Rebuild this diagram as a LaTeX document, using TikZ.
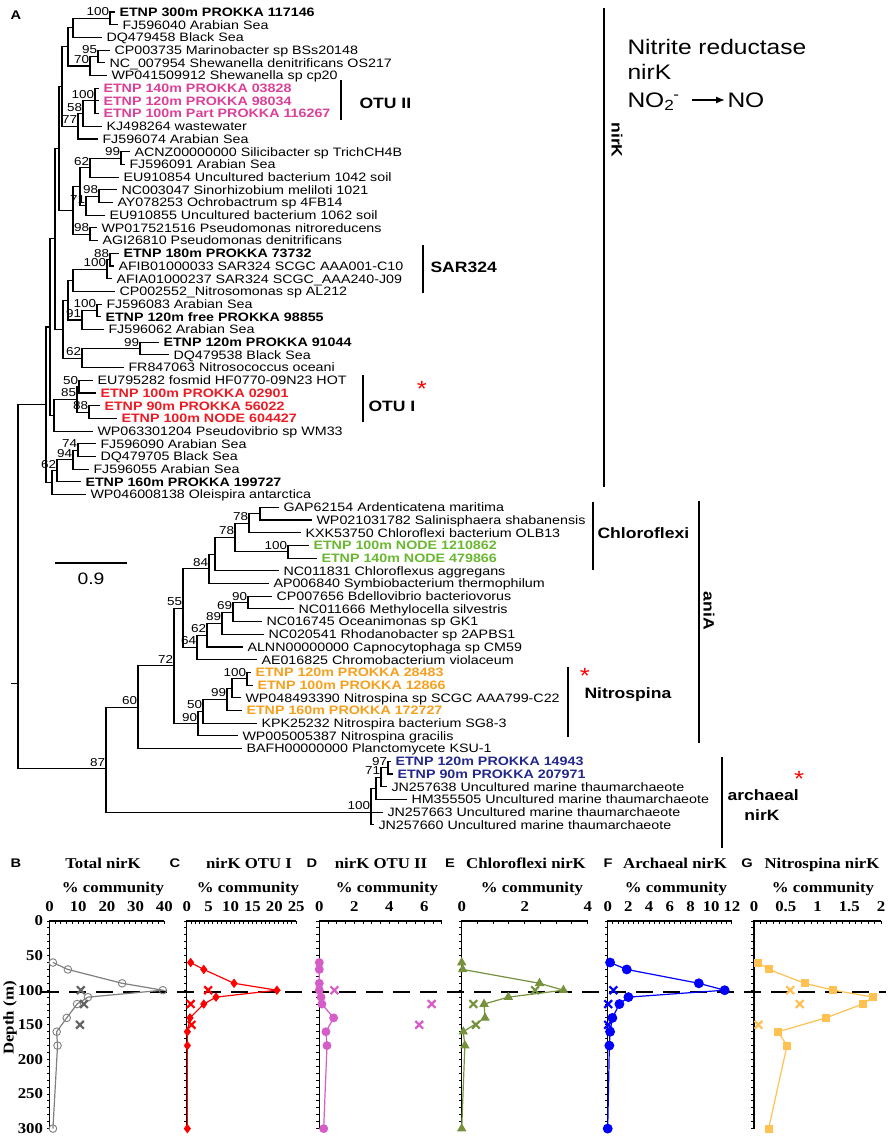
\documentclass[tikz,border=0pt]{standalone}
\usepackage{fontspec}
\setmainfont{Liberation Sans}
\newfontfamily\treefont[FakeStretch=1.17]{Liberation Sans}
\newfontfamily\plotfont[FakeStretch=1.12]{Liberation Serif}
\usetikzlibrary{positioning, calc, arrows.meta, plotmarks}

\definecolor{pinkotu}{RGB}{221,64,153}
\definecolor{redotu}{RGB}{236,28,36}
\definecolor{greenchl}{RGB}{106,184,50}
\definecolor{orangenit}{RGB}{247,160,30}
\definecolor{navyarc}{RGB}{36,40,140}
\definecolor{totgray}{RGB}{128,128,128}
\definecolor{crossgray}{RGB}{100,100,100}
\definecolor{otupink}{RGB}{214,92,200}
\definecolor{chlgreen}{RGB}{118,146,60}
\definecolor{nitroyellow}{RGB}{255,194,82}

\begin{document}
\begin{tikzpicture}[x=1pt, y=-1pt, line width=1pt]
	\tikzstyle{leaf} = [anchor=west, inner xsep=4pt, inner ysep=0pt, text height=8.7pt, text depth=0pt, font=\treefont\fontsize{12.2}{14}\selectfont];
	\tikzstyle{etnp} = [leaf, font=\treefont\fontsize{12.2}{14}\selectfont\bfseries];
	\tikzstyle{otutwo} = [etnp, text=pinkotu];
	\tikzstyle{otuone} = [etnp, text=redotu];
	\tikzstyle{chlor} = [etnp, text=greenchl];
	\tikzstyle{nitro} = [etnp, text=orangenit];
	\tikzstyle{arch} = [etnp, text=navyarc];
	\tikzstyle{boot} = [anchor=south east, inner xsep=0.5pt, inner ysep=2pt, text height=8.2pt, text depth=0pt, font=\treefont\fontsize{11.5}{12}\selectfont];
	\tikzstyle{branch} = [line width=1.1pt];
	\tikzstyle{cladebar} = [line width=1.6pt];
	\tikzstyle{cladelab} = [inner sep=0pt, text height=11pt, text depth=0pt, font=\treefont\fontsize{15}{17}\selectfont\bfseries];
	\tikzstyle{redstar} = [inner sep=0pt, text=red, font=\treefont\fontsize{22}{22}\selectfont];
	\tikzstyle{headline} = [anchor=base west, inner sep=0pt, font=\treefont\fontsize{21}{24}\selectfont];
	\tikzstyle{panellab} = [anchor=base, inner sep=0pt, font=\treefont\fontsize{12.5}{14}\selectfont\bfseries];
	\tikzstyle{plothead} = [anchor=base, inner sep=0pt, font=\plotfont\fontsize{15}{18}\selectfont\bfseries];
	\tikzstyle{ticklab} = [anchor=base, yshift=10pt, inner sep=0pt, font=\plotfont\fontsize{15}{18}\selectfont\bfseries];
	\tikzstyle{depthlab} = [anchor=east, xshift=-6pt, inner sep=0pt, font=\plotfont\fontsize{15}{18}\selectfont\bfseries];
	\tikzstyle{axisline} = [line width=1.2pt];
	\tikzstyle{xmarks} = [only marks, mark=x, mark size=5.5pt, mark options={line width=2.2pt}];

	\path[use as bounding box, fill=white] (0,0) rectangle (889,1140);

	\node[panellab] (pA) at (16,19.5) {A};

	% tree
	\begin{scope}[y=-12.7pt, yshift=0.7pt]
		\foreach \n/\x/\r in {a1/110/1.5, a2/73/2.25, a3/98/4.5, a4/90/5.25, a5/68/3.75, a6/95/8, a7/83/9, a8/78/10, a9/62/6.875,
			b1/121/12.5, b2/90/13.25, b3/99/15.5, b4/86/16.25, b5/80/14.75, b6/90/18.5, b7/73/16.625, c1/59/11.75,
			d1/110/20.5, d2/107/21.25, d3/73/22.125, e1/97/24.5, e2/82/25.25, d4/68/23.69, f1/140/27.5, f2/82/28.25, d5/63/25.97, c2/55/18.86,
			g1/79/30.5, g2/89/32.5, g3/77/31.5, g4/54/32.75, c3/50/25.8, h1/78/35.5, h2/73/36.25, h3/57/37.125, h4/52/38.06, c4/46/31.93,
			k1/260/40.5, k2/249/41.25, k4/288/43.5, k3/235/42.375, k5/215/43.69, k6/209/44.84,
			m1/248/47.5, m2/233/48.25, m3/222/49.125, m4/207/50.06, m5/197/51.03, n0/183/47.94,
			p1/247/53.5, p2/232/54.25, p3/227/55.125, p4/203/56.06, p5/198/57.03, q1/174/52.48, q2/138/55.74,
			r1/388/60.5, r2/381/61.25, r3/376/62.125, r4/371/64, s1/106/60.6, root/18/53.9}
			\coordinate (\n) at (\x,\r);

		\foreach \pa/\ch in {a2/a1, a5/a2, a4/a3, a5/a4, a7/a6, a8/a7, a9/a5, a9/a8, b2/b1, b5/b2, b4/b3, b5/b4, b7/b5, b7/b6, c1/a9, c1/b7,
			d2/d1, d3/d2, d4/d3, e2/e1, d4/e2, f2/f1, d5/d4, d5/f2, c2/c1, c2/d5, g3/g1, g3/g2, g4/g3, c3/c2, c3/g4,
			h2/h1, h3/h2, h4/h3, c4/c3, c4/h4, k2/k1, k3/k2, k3/k4, k5/k3, k6/k5, n0/k6, m2/m1, m3/m2, m4/m3, m5/m4, n0/m5,
			p2/p1, p3/p2, p4/p3, p5/p4, q1/n0, q1/p5, q2/q1, r2/r1, r3/r2, r4/r3, s1/q2, s1/r4, root/c4, root/s1}
			\draw[branch] (\pa) |- (\ch);
		\draw[branch] (root) -- ++(-7pt,0);

		\foreach \r/\x/\pa/\sty/\lab in {1/119/a1/etnp/ETNP 300m PROKKA 117146,
			2/122/a1/leaf/FJ596040 Arabian Sea,
			3/106/a2/leaf/DQ479458 Black Sea,
			4/114/a3/leaf/CP003735 Marinobacter sp BSs20148,
			5/109/a3/leaf/NC\_007954 Shewanella denitrificans OS217,
			6/111/a4/leaf/WP041509912 Shewanella sp cp20,
			7/103/a6/otutwo/ETNP 140m PROKKA 03828,
			8/103/a6/otutwo/ETNP 120m PROKKA 98034,
			9/103/a6/otutwo/ETNP 100m Part PROKKA 116267,
			10/106/a7/leaf/KJ498264 wastewater,
			11/102/a8/leaf/FJ596074 Arabian Sea,
			12/134/b1/leaf/ACNZ00000000 Silicibacter sp TrichCH4B,
			13/129/b1/leaf/FJ596091 Arabian Sea,
			14/123/b2/leaf/EU910854 Uncultured bacterium 1042 soil,
			15/121/b3/leaf/NC003047 Sinorhizobium meliloti 1021,
			16/117/b3/leaf/AY078253 Ochrobactrum sp 4FB14,
			17/109/b4/leaf/EU910855 Uncultured bacterium 1062 soil,
			18/101/b6/leaf/WP017521516 Pseudomonas nitroreducens,
			19/102/b6/leaf/AGI26810 Pseudomonas denitrificans,
			20/123/d1/etnp/ETNP 180m PROKKA 73732,
			21/118/d1/leaf/AFIB01000033 SAR324 SCGC AAA001-C10,
			22/116/d2/leaf/AFIA01000237 SAR324 SCGC\_AAA240-J09,
			23/119/d3/leaf/CP002552\_Nitrosomonas sp AL212,
			24/106/e1/leaf/FJ596083 Arabian Sea,
			25/105/e1/etnp/ETNP 120m free PROKKA 98855,
			26/108/e2/leaf/FJ596062 Arabian Sea,
			27/163/f1/etnp/ETNP 120m PROKKA 91044,
			28/173/f1/leaf/DQ479538 Black Sea,
			29/128/f2/leaf/FR847063 Nitrosococcus oceani,
			30/97/g1/leaf/EU795282 fosmid HF0770-09N23 HOT,
			31/100/g1/otuone/ETNP 100m PROKKA 02901,
			32/104/g2/otuone/ETNP 90m PROKKA 56022,
			33/121/g2/otuone/ETNP 100m NODE 604427,
			34/97/g4/leaf/WP063301204 Pseudovibrio sp WM33,
			35/100/h1/leaf/FJ596090 Arabian Sea,
			36/100/h1/leaf/DQ479705 Black Sea,
			37/93/h2/leaf/FJ596055 Arabian Sea,
			38/85/h3/etnp/ETNP 160m PROKKA 199727,
			39/90/h4/leaf/WP046008138 Oleispira antarctica,
			40/283/k1/leaf/GAP62154 Ardenticatena maritima,
			41/316/k1/leaf/WP021031782 Salinisphaera shabanensis,
			42/305/k2/leaf/KXK53750 Chloroflexi bacterium OLB13,
			43/313/k4/chlor/ETNP 100m NODE 1210862,
			44/321/k4/chlor/ETNP 140m NODE 479866,
			45/283/k5/leaf/NC011831 Chloroflexus aggregans,
			46/273/k6/leaf/AP006840 Symbiobacterium thermophilum,
			47/276/m1/leaf/CP007656 Bdellovibrio bacteriovorus,
			48/298/m1/leaf/NC011666 Methylocella silvestris,
			49/266/m2/leaf/NC016745 Oceanimonas sp GK1,
			50/268/m3/leaf/NC020541 Rhodanobacter sp 2APBS1,
			51/247/m4/leaf/ALNN00000000 Capnocytophaga sp CM59,
			52/261/m5/leaf/AE016825 Chromobacterium violaceum,
			53/255/p1/nitro/ETNP 120m PROKKA 28483,
			54/257/p1/nitro/ETNP 100m PROKKA 12866,
			55/245/p2/leaf/WP048493390 Nitrospina sp SCGC AAA799-C22,
			56/246/p3/nitro/ETNP 160m PROKKA 172727,
			57/261/p4/leaf/KPK25232 Nitrospira bacterium SG8-3,
			58/242/p5/leaf/WP005005387 Nitrospina gracilis,
			59/246/q2/leaf/BAFH00000000 Planctomycete KSU-1,
			60/395/r1/arch/ETNP 120m PROKKA 14943,
			61/397/r1/arch/ETNP 90m PROKKA 207971,
			62/391/r2/leaf/JN257638 Uncultured marine thaumarchaeote,
			63/411/r3/leaf/HM355505 Uncultured marine thaumarchaeote,
			64/387/r4/leaf/JN257663 Uncultured marine thaumarchaeote,
			65/378/r4/leaf/JN257660 Uncultured marine thaumarchaeote}
		{
			\node[\sty] (l\r) at (\x-4,\r) {\lab};
			\draw[branch] (\pa) |- (l\r.west);
		}

		\foreach \n/\v in {a1/100, a3/95, a4/70, a6/100, a7/58, a8/77, b1/99, b2/62, b3/98, b4/71, b6/98,
			d1/88, d2/100, e1/100, e2/91, f1/99, f2/62, g1/50, g2/88, g3/85, h1/74, h2/94, h3/62,
			k2/78, k3/78, k4/100, k6/84, n0/55, m1/90, m2/69, m3/89, m4/62, m5/64, q1/72,
			p1/100, p3/99, p4/50, p5/90, q2/60, r1/97, r2/71, r4/100, s1/87}
			\node[boot] (bs\n) at (\n) {\v};
	\end{scope}

	% scale bar
	\coordinate (sbl) at (55,563);
	\coordinate (sbr) at (127,563);
	\draw[branch] (sbl) -- (sbr);
	\node[inner sep=0pt, font=\treefont\fontsize{16.5}{18}\selectfont] (sbt) at (91,579) {0.9};

	% clades
	\draw[cladebar] (604,8) -- (604,487);
	\node[cladelab, rotate=-90] (cnirK) at (617,140) {nirK};
	\draw[cladebar] (341,80) -- (341,120);
	\node[cladelab, anchor=west] (cotu2) at (359,103) {OTU II};
	\draw[cladebar] (423,245) -- (423,293);
	\node[cladelab, anchor=west] (csar) at (430,267) {SAR324};
	\draw[cladebar] (363,375) -- (363,422);
	\node[cladelab, anchor=west] (cotu1) at (368,406) {OTU I};
	\node[redstar] (st1) at (422,389) {\raisebox{-9pt}{*}};
	\draw[cladebar] (593,502) -- (593,570);
	\node[cladelab, anchor=west] (cchl) at (597,533) {Chloroflexi};
	\draw[cladebar] (699,501) -- (699,743);
	\node[cladelab, rotate=-90] (cani) at (709,611) {aniA};
	\draw[cladebar] (568,667) -- (568,737);
	\node[cladelab, anchor=west] (cnit) at (584,693) {Nitrospina};
	\node[redstar] (st2) at (585,676) {\raisebox{-9pt}{*}};
	\draw[cladebar] (722,757) -- (722,848);
	\node[cladelab, anchor=west] (carc) at (727,795) {archaeal};
	\node[cladelab] (carc2) at (762,815) {nirK};
	\node[redstar] (st3) at (799,779) {\raisebox{-9pt}{*}};

	% reaction
	\node[headline] (h1) at (627,55) {Nitrite reductase};
	\node[headline] (h2) at (627,80) {nirK};
	\node[headline] (h3) at (627,107) {NO\textsubscript{2}\kern-1pt\textsuperscript{-}};
	\node[headline] (h4) at (727,107) {NO};
	\draw[-{Latex[length=9pt, width=7pt]}, line width=1.3pt] (h3.base east) ++(12pt,7pt) -- ([xshift=-2pt, yshift=7pt]h4.base west);

	% depth profiles
	\draw[dash pattern=on 17pt off 10pt, line width=1.3pt] (42,992) -- (886,992);

	\node[panellab] (pB) at (16,867) {B};
	\node[plothead] (hB) at (103,868) {Total nirK};
	\node[plothead] (uB) at (113,892) {\% community};
	\node[panellab] (pC) at (175,867) {C};
	\node[plothead] (hC) at (249,868) {nirK OTU I};
	\node[plothead] (uC) at (248,892) {\% community};
	\node[panellab] (pD) at (312,867) {D};
	\node[plothead] (hD) at (381,868) {nirK OTU II};
	\node[plothead] (uD) at (387,892) {\% community};
	\node[panellab] (pE) at (450,867) {E};
	\node[plothead] (hE) at (526,868) {Chloroflexi nirK};
	\node[plothead] (uE) at (532,892) {\% community};
	\node[panellab] (pF) at (608,867) {F};
	\node[plothead] (hF) at (675,868) {Archaeal nirK};
	\node[plothead] (uF) at (676,892) {\% community};
	\node[panellab] (pG) at (747,867) {G};
	\node[plothead] (hG) at (822,868) {Nitrospina nirK};
	\node[plothead] (uG) at (823,892) {\% community};
	\node[plothead, anchor=center, rotate=90] (dep) at (10,1018) {Depth (m)};

	% B
	\begin{scope}[shift={(49.5,921)}, x=2.87pt, y=-0.692pt]
		\draw[axisline] (40,0) -- (0,0) -- (0,300);
		\foreach \tk in {0,2,...,40} \draw (\tk,0) -- ++(0,-3pt);
		\foreach \dep in {0,10,...,300} \draw (0,\dep) -- ++(-3pt,0);
		\foreach \tk in {0,10,...,40} \node[ticklab] (bx\tk) at (\tk,0) {\tk};
		\foreach \dep in {0,50,...,300} \node[depthlab] (by\dep) at (0,\dep) {\dep};
		\draw[totgray, line width=1.2pt, mark=o, mark size=3.8pt, mark options={line width=0.9pt}] plot coordinates {(1.2,60) (6.4,70) (25.3,90) (39.5,100) (13.4,110) (9.6,120) (6,140) (2.5,160) (2.8,180) (1.2,300)};
		\draw[crossgray, xmarks] plot coordinates {(10.9,100) (12,120) (10.6,150)};
	\end{scope}

	% C
	\begin{scope}[shift={(186.7,921)}, x=4.38pt, y=-0.692pt]
		\draw[axisline] (25,0) -- (0,0) -- (0,300);
		\foreach \tk in {0,1,...,25} \draw (\tk,0) -- ++(0,-3pt);
		\foreach \dep in {0,10,...,300} \draw (0,\dep) -- ++(-3pt,0);
		\foreach \tk in {0,5,...,25} \node[ticklab] (cx\tk) at (\tk,0) {\tk};
		\draw[red, line width=1.2pt, mark=diamond*, mark size=3.8pt] plot coordinates {(0.9,60) (3.9,70) (10.8,90) (20.6,100) (6.7,110) (3.9,120) (0.75,140) (0.15,160) (0.15,180) (0.15,300)};
		\draw[red, xmarks] plot coordinates {(4.9,100) (0.9,120) (1.1,150)};
	\end{scope}

	% D
	\begin{scope}[shift={(319.3,921)}, x=17.5pt, y=-0.692pt]
		\draw[axisline] (7,0) -- (0,0) -- (0,300);
		\foreach \tk in {0,0.5,...,7} \draw (\tk,0) -- ++(0,-3pt);
		\foreach \dep in {0,10,...,300} \draw (0,\dep) -- ++(-3pt,0);
		\foreach \tk in {0,2,4,6} \node[ticklab] (dx\tk) at (\tk,0) {\tk};
		\draw[otupink, line width=1.2pt, mark=*, mark size=3.8pt] plot coordinates {(0,60) (0,70) (0,90) (0,100) (0.1,110) (0.15,120) (0.82,140) (0.38,160) (0.44,180) (0.25,300)};
		\draw[otupink, xmarks] plot coordinates {(0.86,100) (6.42,120) (5.71,150)};
	\end{scope}

	% E
	\begin{scope}[shift={(461.7,921)}, x=31.5pt, y=-0.692pt]
		\draw[axisline] (4,0) -- (0,0) -- (0,300);
		\foreach \tk in {0,0.5,...,4} \draw (\tk,0) -- ++(0,-3pt);
		\foreach \dep in {0,10,...,300} \draw (0,\dep) -- ++(-3pt,0);
		\foreach \tk in {0,2,4} \node[ticklab] (ex\tk) at (\tk,0) {\tk};
		\draw[chlgreen, line width=1.2pt, mark=triangle*, mark size=4.3pt] plot coordinates {(0,60) (0.03,70) (2.47,90) (3.23,100) (1.48,110) (0.71,120) (0.74,140) (0.05,160) (0.1,180) (0,300)};
		\draw[chlgreen, xmarks] plot coordinates {(2.33,100) (0.37,120) (0.45,150)};
	\end{scope}

	% F
	\begin{scope}[shift={(607.7,921)}, x=10.35pt, y=-0.692pt]
		\draw[axisline] (12,0) -- (0,0) -- (0,300);
		\foreach \tk in {0,0.5,...,12} \draw (\tk,0) -- ++(0,-3pt);
		\foreach \dep in {0,10,...,300} \draw (0,\dep) -- ++(-3pt,0);
		\foreach \tk in {0,2,...,12} \node[ticklab] (fx\tk) at (\tk,0) {\tk};
		\draw[blue, line width=1.2pt, mark=*, mark size=4.3pt] plot coordinates {(0.23,60) (1.84,70) (8.8,90) (11.3,100) (2.0,110) (1.13,120) (0.45,140) (0.23,160) (0.16,180) (0,300)};
		\draw[blue, xmarks] plot coordinates {(0.55,100) (0.05,120) (0.05,150)};
	\end{scope}

	% G
	\begin{scope}[shift={(754,921)}, x=63.5pt, y=-0.692pt]
		\draw[axisline] (2,0) -- (0,0) -- (0,300);
		\foreach \tk in {0,0.1,...,2.05} \draw (\tk,0) -- ++(0,-3pt);
		\foreach \dep in {0,10,...,300} \draw (0,\dep) -- ++(-3pt,0);
		\foreach \tk [count=\i] in {0,0.5,1,1.5,2} \node[ticklab] (gx\i) at (\tk,0) {\tk};
		\draw[nitroyellow, line width=1.2pt, mark=square*, mark size=3.4pt] plot coordinates {(0.07,60) (0.23,70) (0.8,90) (1.25,100) (1.88,110) (1.71,120) (1.13,140) (0.38,160) (0.52,180) (0.23,300)};
		\draw[nitroyellow, xmarks] plot coordinates {(0.57,100) (0.72,120) (0.07,150)};
	\end{scope}
\end{tikzpicture}
\end{document}
